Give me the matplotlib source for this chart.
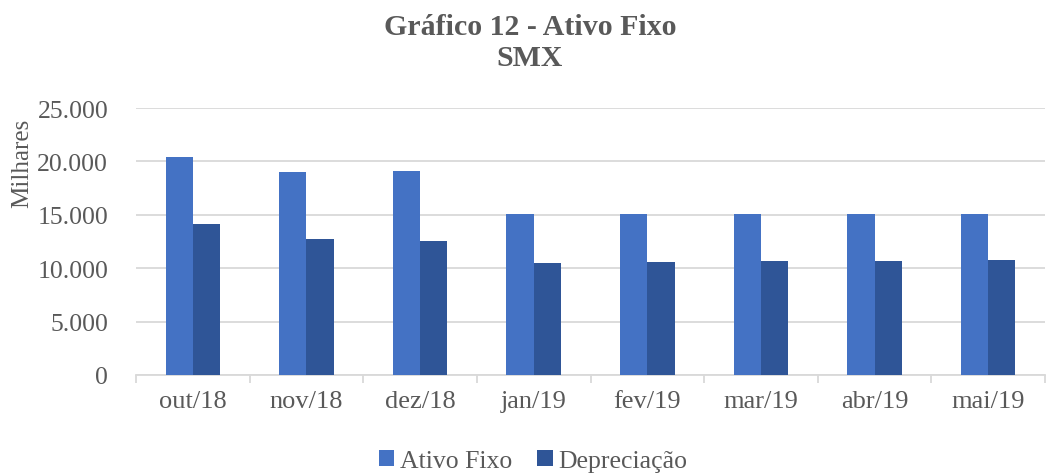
import matplotlib
matplotlib.use("Agg")
import matplotlib.pyplot as plt
import numpy as np
from matplotlib.ticker import FuncFormatter

categories = ["out/18", "nov/18", "dez/18", "jan/19", "fev/19", "mar/19", "abr/19", "mai/19"]
ativo_fixo = [20430, 18970, 19060, 15060, 15060, 15060, 15060, 15060]
depreciacao = [14130, 12720, 12510, 10500, 10600, 10630, 10700, 10730]
series_names = ["Ativo Fixo", "Depreciação"]
title = "Gráfico 12 - Ativo Fixo\nSMX"
ylabel = "Milhares"

plt.rcParams['font.family'] = ['Liberation Serif', 'DejaVu Serif']
gray = "#595959"

fig = plt.figure(figsize=(10.49, 4.77), dpi=100)
ax = fig.add_axes([136/1049, 1-376/477, (1045-136)/1049, (376-109)/477])

x = np.arange(len(categories))
w = 0.24
ax.bar(x - w/2, ativo_fixo, w, color="#4472C4", label=series_names[0], zorder=3)
ax.bar(x + w/2, depreciacao, w, color="#2F5597", label=series_names[1], zorder=3)

ax.set_xlim(-0.5, len(categories) - 0.5)
ax.set_ylim(0, 25000)
ax.set_yticks(np.arange(0, 25001, 5000))
ax.yaxis.set_major_formatter(FuncFormatter(lambda v, p: f"{int(v):,}".replace(",", ".")))
ax.grid(axis="y", color="#D9D9D9", linewidth=1.3, zorder=0)
for s in ["top", "right", "left"]:
    ax.spines[s].set_visible(False)
ax.spines["bottom"].set_color("#D9D9D9")
ax.spines["bottom"].set_linewidth(1.3)

ax.set_xticks(np.arange(-0.5, len(categories), 1), minor=False)
ax.set_xticklabels([])
ax.tick_params(axis="x", which="major", length=6, color="#D9D9D9", width=1.3)
ax.set_xticks(x, minor=True)
ax.set_xticklabels(categories, minor=True)
ax.tick_params(axis="x", which="minor", length=0, pad=11, labelsize=19, labelcolor=gray)
ax.tick_params(axis="y", length=0, pad=20, labelsize=18.5, labelcolor=gray)

fig.text(22/1049, 1-163/477, ylabel, rotation=90, ha="center", va="center", fontsize=18, color=gray)
fig.text(530/1049, 1-43/477, title, ha="center", va="center", fontsize=21.5, fontweight="bold",
         color=gray, linespacing=1.15)

leg = fig.legend(loc="center", bbox_to_anchor=(533/1049, 1-462/477), ncol=2, frameon=False,
                 fontsize=18.5, handlelength=0.6, handleheight=0.6, handletextpad=0.2, columnspacing=1.0)
for t in leg.get_texts():
    t.set_color(gray)

fig.savefig("out.png", dpi=100)
